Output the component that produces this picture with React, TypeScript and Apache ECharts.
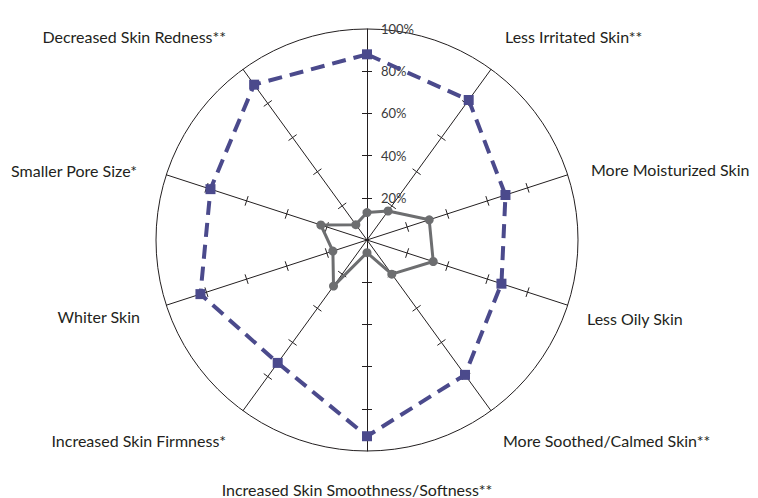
import React, { useEffect, useRef } from 'react';
import * as echarts from 'echarts';

const indicatorNames = [
  '',
  'Decreased Skin Redness**',
  'Smaller Pore Size*',
  'Whiter Skin',
  'Increased Skin Firmness*',
  'Increased Skin Smoothness/Softness**',
  'More Soothed/Calmed Skin**',
  'Less Oily Skin',
  'More Moisturized Skin',
  'Less Irritated Skin**',
];
const treatedValues = [88, 91, 78, 83, 72, 93, 79, 67, 69, 82];
const baselineValues = [13, 9, 23, 17, 27, 6, 20, 33, 31, 17];
const tickValues = [20, 40, 60, 80];
const labelValues = [20, 40, 60, 80, 100];

// placement of the axis names around the circle: [x, y, align]
const nameLayout: [number, number, string][] = [
  [0, 0, 'center'],
  [226, 36, 'right'],
  [137, 170, 'right'],
  [140, 316, 'right'],
  [226, 440, 'right'],
  [357, 489, 'center'],
  [503, 440, 'left'],
  [587, 318, 'left'],
  [591, 169, 'left'],
  [505, 36, 'left'],
];

const INK = '#231f20';
const PURPLE = '#4b4a8c';
const GRAY = '#6d6e70';
const FONT = 'Lato';

export default function App() {
  const ref = useRef<HTMLDivElement>(null);
  useEffect(() => {
    if (!ref.current) return;
    const chart = echarts.init(ref.current, undefined, { renderer: 'svg' });
    const common = {
      center: [367, 240],
      radius: 211,
      shape: 'circle',
      startAngle: 90,
      splitArea: { show: false },
      axisName: { show: false },
    };
    chart.setOption({
      animation: false,
      backgroundColor: '#ffffff',
      radar: [
        {
          ...common,
          splitNumber: 5,
          indicator: indicatorNames.map((name, i) => {
            const o: any = { name, min: 0, max: 100 };
            if (i === 0) o.axisLabel = { show: true };
            return o;
          }),
          axisLine: { show: true, lineStyle: { color: INK, width: 1 } },
          axisTick: { show: true, length: 5, customValues: tickValues, lineStyle: { color: INK, width: 1 } },
          axisLabel: {
            show: false,
            customValues: labelValues,
            formatter: (v: number) => (v === 0 ? '' : v + '%'),
            fontSize: 13,
            fontFamily: FONT,
            color: '#3a3a3a',
            margin: -14,
            align: 'left',
          },
          splitLine: { show: false },
        },
        {
          ...common,
          splitNumber: 5,
          indicator: indicatorNames.map(() => ({ name: '', min: 0, max: 100 })),
          axisLine: { show: false },
          axisTick: { show: true, length: -5, customValues: tickValues, lineStyle: { color: INK, width: 1 } },
          axisLabel: { show: false },
          splitLine: { show: false },
        },
        {
          ...common,
          splitNumber: 1,
          indicator: indicatorNames.map(() => ({ name: '', min: 0, max: 100 })),
          axisLine: { show: false },
          axisTick: { show: false },
          axisLabel: { show: false },
          splitLine: { show: true, lineStyle: { color: ['rgba(0,0,0,0)', INK], width: 1 } },
        },
      ],
      graphic: indicatorNames
        .map((name, i) => ({ name, i }))
        .filter((d) => d.name !== '')
        .map(({ name, i }) => ({
          type: 'text',
          x: nameLayout[i][0],
          y: nameLayout[i][1],
          silent: true,
          style: {
            text: name,
            fontSize: 16,
            fontFamily: FONT,
            fill: INK,
            textAlign: nameLayout[i][2],
            textVerticalAlign: 'middle',
          },
        })),
      series: [
        {
          type: 'radar',
          radarIndex: 0,
          symbol: 'rect',
          symbolSize: 10,
          lineStyle: { color: PURPLE, width: 4, type: [14, 8] },
          itemStyle: { color: PURPLE },
          data: [{ value: treatedValues, name: 'Treated' }],
          z: 3,
        },
        {
          type: 'radar',
          radarIndex: 0,
          symbol: 'circle',
          symbolSize: 9,
          lineStyle: { color: GRAY, width: 3 },
          itemStyle: { color: GRAY },
          data: [{ value: baselineValues, name: 'Baseline' }],
          z: 2,
        },
      ],
    });
    return () => chart.dispose();
  }, []);
  return (
    <div
      ref={ref}
      style={{ position: 'absolute', left: 0, top: 0, width: 758, height: 498 }}
    />
  );
}
